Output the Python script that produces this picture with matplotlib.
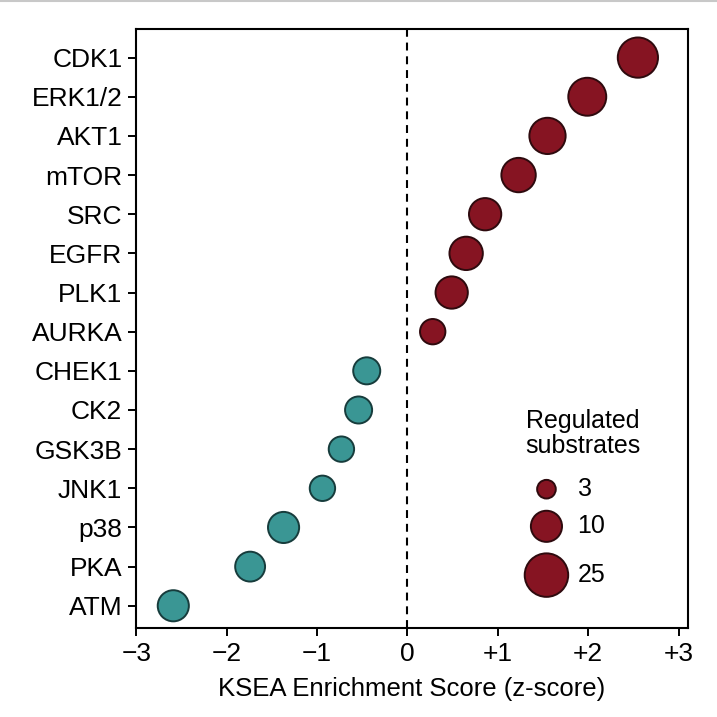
import numpy as np
import matplotlib
matplotlib.use("Agg")
import matplotlib.pyplot as plt
from matplotlib.lines import Line2D

plt.rcParams['font.family'] = ['Liberation Sans', 'DejaVu Sans']

# kinases, top to bottom
kinases = ["CDK1", "ERK1/2", "AKT1", "mTOR", "SRC", "EGFR", "PLK1", "AURKA",
           "CHEK1", "CK2", "GSK3B", "JNK1", "p38", "PKA", "ATM"]
zscores = [2.55, 1.99, 1.55, 1.23, 0.86, 0.65, 0.49, 0.28,
           -0.45, -0.54, -0.73, -0.94, -1.37, -1.74, -2.59]
substrates = [20, 17, 15, 13, 11, 12, 11, 6,
              7, 7, 6, 6, 10, 9, 10]
legend_counts = [3, 10, 25]
xticks = [-3, -2, -1, 0, 1, 2, 3]
xticklabels = ["\u22123", "\u22122", "\u22121", "0", "+1", "+2", "+3"]

red = "#861422"
red_edge = "#2e0a0e"
teal = "#3a9694"
teal_edge = "#173c3c"


def msize(n):
    # marker area in pt^2 from substrate count
    r_px = 10.3 + 13.5 * (n ** 0.25 - 3 ** 0.25)
    d_pt = 2 * r_px * 0.72 - 1.4
    return d_pt ** 2


fig = plt.figure(figsize=(7.17, 7.17), dpi=100)
ax = fig.add_axes([0.190, 0.124, 0.769, 0.835])

y = np.arange(len(kinases))[::-1]
z = np.array(zscores)
s = np.array([msize(n) for n in substrates])
pos = z > 0
ax.scatter(z[pos], y[pos], s=s[pos], c=red, edgecolors=red_edge, linewidths=1.4, zorder=3)
ax.scatter(z[~pos], y[~pos], s=s[~pos], c=teal, edgecolors=teal_edge, linewidths=1.4, zorder=3)

ax.axvline(0, color="black", lw=1.5, ls=(0, (3.8, 2.8)), zorder=1)

ax.set_xlim(-3.0, 3.1)
ax.set_ylim(-0.57, 14.72)
ax.set_xticks(xticks)
ax.set_xticklabels(xticklabels)
ax.set_yticks(y)
ax.set_yticklabels(kinases)
ax.tick_params(axis="both", labelsize=19, length=6, width=1.4, direction="out", pad=4)
for sp in ax.spines.values():
    sp.set_linewidth(1.5)
ax.set_xlabel("KSEA Enrichment Score (z-score)", fontsize=18.5, labelpad=8)

# size legend, drawn in axes coordinates
leg_y = [0.232, 0.170, 0.0885]
ax.scatter([0.744] * 3, leg_y, s=[msize(n) for n in legend_counts], c=red,
           edgecolors=red_edge, linewidths=1.4, transform=ax.transAxes, clip_on=False, zorder=4)
for n, yy in zip(legend_counts, leg_y):
    ax.text(0.8005, yy, str(n), transform=ax.transAxes, fontsize=18, ha="left", va="center")
ax.text(0.8096, 0.3255, "Regulated\nsubstrates", transform=ax.transAxes, fontsize=18,
        ha="center", va="center", linespacing=1.05)

fig.add_artist(Line2D([0, 1], [0.999, 0.999], color="#c8c8c8", lw=1.5, transform=fig.transFigure))

fig.savefig("out.png", dpi=100)
